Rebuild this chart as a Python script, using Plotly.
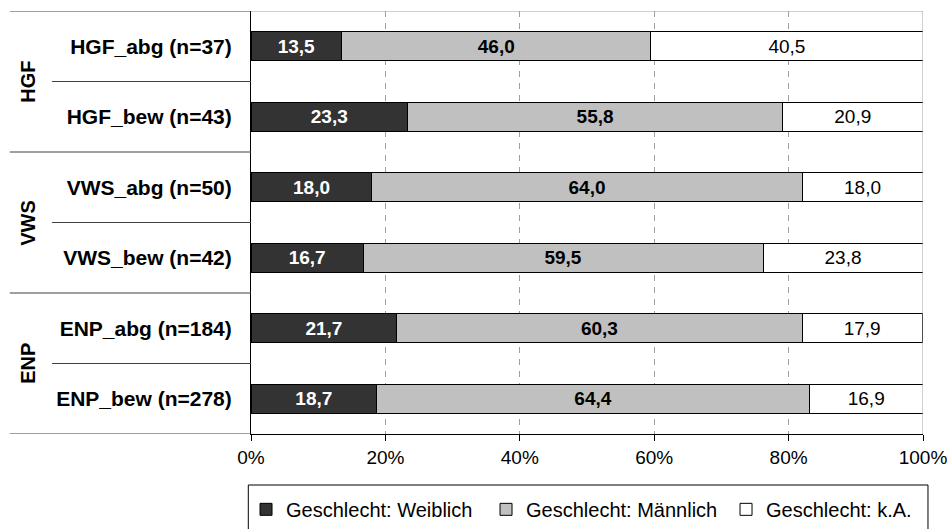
import plotly.graph_objects as go

# Daten
kategorien = ["HGF_abg (n=37)", "HGF_bew (n=43)", "VWS_abg (n=50)",
              "VWS_bew (n=42)", "ENP_abg (n=184)", "ENP_bew (n=278)"]
gruppen = ["HGF", "VWS", "ENP"]
weiblich = [13.5, 23.3, 18.0, 16.7, 21.7, 18.7]
maennlich = [46.0, 55.8, 64.0, 59.5, 60.3, 64.4]
keine_angabe = [40.5, 20.9, 18.0, 23.8, 17.9, 16.9]
x_ticks = [0, 20, 40, 60, 80, 100]
x_ticktext = ["0%", "20%", "40%", "60%", "80%", "100%"]

FONT = "Liberation Sans, Arial, sans-serif"


def fmt(v):
    return f"{v:.1f}".replace(".", ",")


fig = go.Figure()
serien = [
    ("Geschlecht: Weiblich", weiblich, "#333333", dict(color="white", size=19, weight="bold")),
    ("Geschlecht: Männlich", maennlich, "#c0c0c0", dict(color="black", size=19, weight="bold")),
    ("Geschlecht: k.A.", keine_angabe, "#ffffff", dict(color="black", size=19)),
]
for name, werte, farbe, tfont in serien:
    fig.add_trace(go.Bar(
        y=kategorien, x=werte, orientation="h", name=name,
        marker=dict(color=farbe, line=dict(color="black", width=1)),
        text=[fmt(v) for v in werte], textposition="inside",
        insidetextanchor="middle", constraintext="none",
        textfont=dict(family=FONT, **tfont),
    ))

# linke Gliederungslinien und Gruppenbeschriftungen
shapes = []
for b in [-0.5, 1.5, 3.5, 5.5]:
    shapes.append(dict(type="line", xref="paper", yref="y", x0=-0.359, x1=0,
                       y0=b, y1=b, line=dict(color="#404040", width=1)))
for b in [0.5, 2.5, 4.5]:
    shapes.append(dict(type="line", xref="paper", yref="y", x0=-0.296, x1=0,
                       y0=b, y1=b, line=dict(color="#404040", width=1)))
# Rahmen oben/rechts
shapes.append(dict(type="line", xref="paper", yref="y", x0=0, x1=1,
                   y0=-0.5, y1=-0.5, line=dict(color="#a0a0a0", width=1)))
shapes.append(dict(type="line", xref="x", yref="paper", x0=100, x1=100,
                   y0=0, y1=1, line=dict(color="#a0a0a0", width=1)))
# Legendenrahmen
shapes.append(dict(type="rect", xref="paper", yref="paper", x0=-0.004, x1=1.0074,
                   y0=-0.1206, y1=-0.4, line=dict(color="black", width=1),
                   fillcolor="rgba(0,0,0,0)"))

annotations = []
for i, g in enumerate(gruppen):
    annotations.append(dict(text=g, xref="paper", yref="y", x=-0.333, y=2 * i + 0.5,
                            xanchor="center", yanchor="middle",
                            textangle=-90, showarrow=False,
                            font=dict(family=FONT, size=20, color="black", weight="bold")))

fig.update_layout(
    barmode="stack", bargap=0.59,
    width=949, height=529,
    margin=dict(l=251, r=26, t=11, b=95, autoexpand=False),
    plot_bgcolor="white", paper_bgcolor="white",
    font=dict(family=FONT, color="black"),
    shapes=shapes, annotations=annotations,
    showlegend=True,
    legend=dict(orientation="h", x=-0.0074, xanchor="left", y=-0.132, yanchor="top",
                font=dict(size=20), entrywidth=195, borderwidth=0,
                traceorder="normal", bgcolor="rgba(0,0,0,0)"),
    xaxis=dict(range=[0, 100], tickvals=x_ticks, ticktext=x_ticktext,
               showgrid=True, gridcolor="#a0a0a0", griddash="6px,6px",
               showline=True, linecolor="black", linewidth=1,
               ticks="outside", ticklen=6, tickcolor="black",
               tickfont=dict(size=19), zeroline=False, automargin=False),
    yaxis=dict(range=[5.5, -0.5], showline=True, linecolor="black", linewidth=1,
               ticks="", showgrid=False, ticklabelstandoff=14, automargin=False,
               tickfont=dict(size=21, weight="bold")),
)

# Seitenrand entfernen, damit die Grafik genau im Fenster sitzt
fig.write_html("out.html", config={"displayModeBar": False},
               post_script="document.body.style.margin='0';document.body.style.overflow='hidden';")
